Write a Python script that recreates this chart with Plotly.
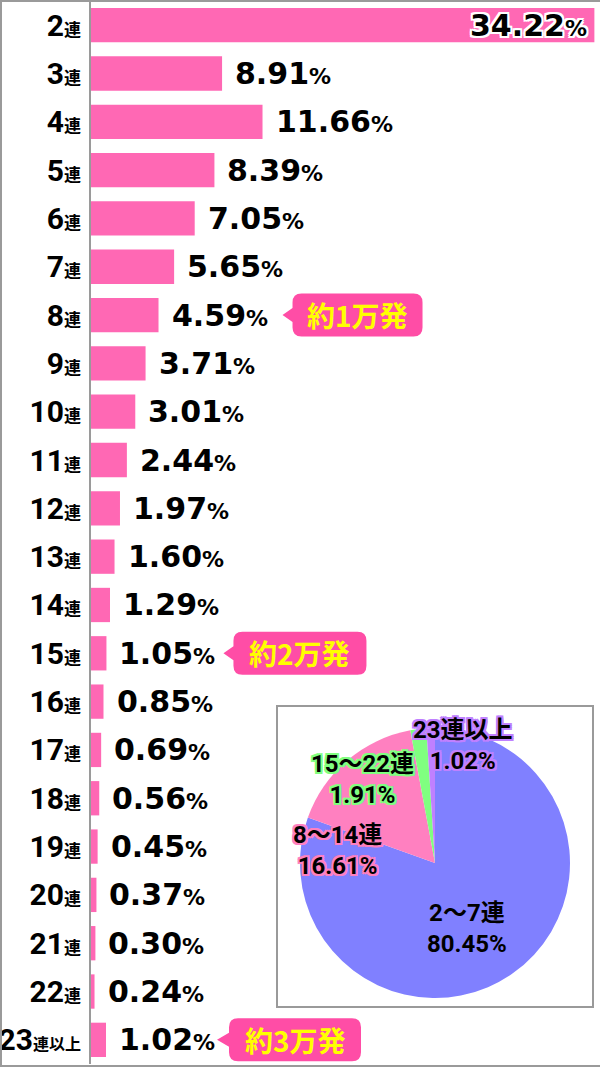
import plotly.graph_objects as go

# Balkendiagramm: Anteil je Verbindungsanzahl
categories = ["2", "3", "4", "5", "6", "7", "8", "9", "10", "11", "12", "13",
              "14", "15", "16", "17", "18", "19", "20", "21", "22", "23"]
suffixes = ["連"] * 21 + ["連以上"]
shares = [34.22, 8.91, 11.66, 8.39, 7.05, 5.65, 4.59, 3.71, 3.01, 2.44, 1.97, 1.60,
          1.29, 1.05, 0.85, 0.69, 0.56, 0.45, 0.37, 0.30, 0.24, 1.02]

# Callouts (Index der Zeile, Text)
callout_rows = [6, 13, 21]
callout_texts = ["約1万発", "約2万発", "約3万発"]

# Kreisdiagramm
pie_labels = ["2〜7連", "8〜14連", "15〜22連", "23連以上"]
pie_values = [80.45, 16.61, 1.91, 1.02]
pie_colors = ["#8080ff", "#ff80c0", "#80ff80", "#c080ff"]

W, H = 600, 1068
ML, MR, MT, MB = 91, 2, 1, 4
PW, PH = W - ML - MR, H - MT - MB
PINK = "#ff4da6"
GRAY = "#9a9a9a"
LABEL_FONT = "Roboto, Noto Sans CJK JP"


def px(x):
    return (x - ML) / PW


def py(y):
    return 1 - (y - MT) / PH


def outline(color, w=2):
    offs = [(w, 0), (-w, 0), (0, w), (0, -w), (w, w), (-w, -w), (w, -w), (-w, w)]
    return ", ".join(f"{a}px {b}px 0 {color}" for a, b in offs)


rows = list(range(len(categories)))
ticktext = [
    f"{c}<span style='font-family:Noto Sans CJK JP;font-size:{17 if len(s) == 1 else 16}px'>{s}</span>"
    for c, s in zip(categories, suffixes)
]

fig = go.Figure()
fig.add_trace(go.Bar(
    x=shares,
    y=rows,
    orientation='h',
    marker=dict(color="#ff68b4", line=dict(width=0)),
    hoverinfo='skip',
    showlegend=False
))

annotations = []
max_i = shares.index(max(shares))
for i, v in enumerate(shares):
    txt = f"{v:.2f}<span style='font-size:22px'>%</span>"
    if i == max_i:
        annotations.append(dict(
            x=v, y=i, xref='x', yref='y', text=txt, showarrow=False,
            xanchor='right', xshift=-5, yanchor='middle',
            font=dict(family="DejaVu Sans", size=30, color='black', weight='bold',
                      shadow=outline('white', 2))
        ))
    else:
        annotations.append(dict(
            x=v, y=i, xref='x', yref='y', text=txt, showarrow=False,
            xanchor='left', xshift=11, yanchor='middle',
            font=dict(family="DejaVu Sans", size=30, color='black', weight='bold')
        ))

# Callout-Boxen (Pixel-Offsets relativ zum Balkenende)
callout_geom = {6: (124, 134, 264), 13: (117, 127, 260), 21: (111, 123, 255)}
shapes = []
hh, r = 21.5, 9
for row, text in zip(callout_rows, callout_texts):
    tip, b0, b1 = callout_geom[row]
    path = (f"M {b0 + r},{-hh} L {b1 - r},{-hh} Q {b1},{-hh} {b1},{-hh + r} "
            f"L {b1},{hh - r} Q {b1},{hh} {b1 - r},{hh} L {b0 + r},{hh} "
            f"Q {b0},{hh} {b0},{hh - r} L {b0},7 L {tip},0 L {b0},-7 "
            f"L {b0},{-hh + r} Q {b0},{-hh} {b0 + r},{-hh} Z")
    shapes.append(dict(
        type='path', xref='x', yref='y', xsizemode='pixel', ysizemode='pixel',
        xanchor=shares[row], yanchor=row, path=path,
        fillcolor=PINK, line=dict(width=0), layer='above'
    ))
    annotations.append(dict(
        x=shares[row], y=row, xref='x', yref='y', text=text, showarrow=False,
        xanchor='center', xshift=(b0 + b1) / 2, yanchor='middle',
        font=dict(family="Noto Sans CJK JP", size=28, color='#ffff00', weight='bold')
    ))

# Rahmen um das ganze Bild und um das Kreisdiagramm
shapes.append(dict(type='rect', xref='paper', yref='paper',
                   x0=px(1), x1=px(620), y0=py(1), y1=py(1066),
                   line=dict(color=GRAY, width=2), layer='above'))
shapes.append(dict(type='rect', xref='paper', yref='paper',
                   x0=px(277), x1=px(593), y0=py(706), y1=py(1007),
                   fillcolor='white', line=dict(color=GRAY, width=2), layer='below'))

fig.add_trace(go.Pie(
    values=pie_values,
    labels=pie_labels,
    marker=dict(colors=pie_colors, line=dict(width=0)),
    sort=False, direction='clockwise', rotation=0,
    textinfo='none', hoverinfo='label+percent', showlegend=False,
    domain=dict(x=[px(300), px(570)], y=[py(998), py(728)])
))

# Beschriftungen im Kreisdiagramm
pie_label_pos = [(467, 928), (337, 850), (362, 779), (463, 745)]
pie_outlines = [None, "#ff80c0", "#80ff80", "#c080ff"]
for lab, val, (lx, ly), oc in zip(pie_labels, pie_values, pie_label_pos, pie_outlines):
    f = dict(family=LABEL_FONT, size=24, color='black', weight='bold')
    if oc:
        f['shadow'] = outline(oc, 2)
    annotations.append(dict(
        x=px(lx), y=py(ly), xref='paper', yref='paper', showarrow=False,
        text=f"{lab}<br>{val:.2f}%",
        align='center', xanchor='center', yanchor='middle', font=f
    ))

fig.update_layout(
    width=W, height=H,
    margin=dict(l=ML, r=MR, t=MT, b=MB, autoexpand=False),
    paper_bgcolor='white', plot_bgcolor='white',
    bargap=0.29,
    xaxis=dict(range=[0, PW / 14.71], visible=False, showgrid=False, zeroline=False,
               automargin=False),
    yaxis=dict(
        range=[len(rows) - 0.5, -0.5], tickvals=rows, ticktext=ticktext,
        showgrid=False, zeroline=False, ticks='', automargin=False,
        showline=True, linecolor=GRAY, linewidth=2,
        ticklabelstandoff=2,
        tickfont=dict(family=LABEL_FONT, size=30, color='black', weight='bold')
    ),
    annotations=annotations,
    shapes=shapes
)

# Standard-Rand des <body> entfernen, damit die Figur bei (0,0) beginnt
fig.write_html("out.html", config={'displayModeBar': False},
               post_script="document.body.style.margin='0';")
